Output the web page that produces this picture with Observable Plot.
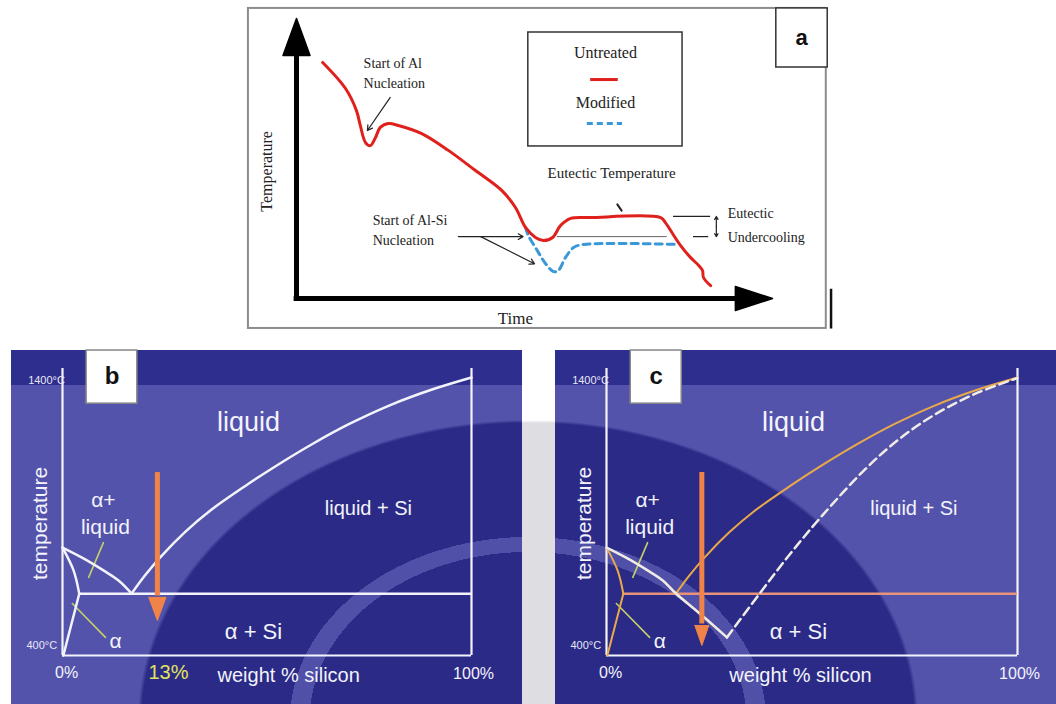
<!DOCTYPE html>
<html><head><meta charset="utf-8">
<script src="https://cdn.jsdelivr.net/npm/d3@7"></script>
<script src="https://cdn.jsdelivr.net/npm/@observablehq/plot@0.6"></script>
<style>
html,body{margin:0;padding:0;background:#fff;}
#wrap{position:relative;width:1056px;height:704px;overflow:hidden;
  background: radial-gradient(ellipse 390px 300px at 538px 720px, #dedee2 0 99%, rgba(255,255,255,0) 100%), #fff;}
.panel{position:absolute;}
#pa{left:247px;top:7px;}
#pb{left:11px;top:350px;width:511px;height:354px;
  background: linear-gradient(#2e2e8e,#2e2e8e) 0 0 / 100% 35px no-repeat,
    radial-gradient(ellipse 390px 300px at 517px 370px, #2b2b87 0 56%, #5050a8 56% 61%, #2b2b87 61% 99%, rgba(0,0,0,0) 100%),
    #5353ab;}
#pc{left:555px;top:350px;width:501px;height:354px;
  background: linear-gradient(#2e2e8e,#2e2e8e) 0 0 / 100% 35px no-repeat,
    radial-gradient(ellipse 390px 300px at -27px 370px, #2b2b87 0 56%, #5050a8 56% 61%, #2b2b87 61% 99%, rgba(0,0,0,0) 100%),
    #5353ab;}
</style></head>
<body><div id="wrap"><div id="pa" class="panel"></div><div id="pb" class="panel"></div><div id="pc" class="panel"></div></div>
<script>
// ---------- Panel a : cooling curves (time, temperature in arbitrary units 0-100) ----------
const timeUntreated = [5.5,10.3,12.6,13.4,14.5,15.5,16.6,17.6,19.3,21.4,26.3,31.9,37.6,43.1,46.0,48.1,50.2,51.9,53.8,55.5,57.6,61.8,76.5,77.5,79.0,80.7,82.8,84.5,85.3,85.5,87.0];
const tempUntreated = [84.3,75.0,67.1,61.8,55.7,54.6,57.5,61.1,62.5,61.8,58.9,52.9,45.7,38.6,32.5,25.4,21.8,20.7,21.8,26.1,28.6,28.9,28.9,27.1,23.2,18.9,14.6,11.8,10.0,7.5,4.6];
const timeModified = [48.1,48.7,50.6,52.3,54.0,55.0,56.5,58.2,60.3,80.0];
const tempModified = [25.4,22.5,17.1,12.5,9.6,10.0,14.6,18.2,19.3,19.3];
const eutecticRef = 22.1;       // thin reference line (undercooled plateau)
const eutecticTop = 29.3;       // untreated plateau level
const legendItems = ["Untreated","Modified"];

// ---------- Panels b, c : Al-Si phase diagram (wt% Si, °C) ----------
const liqLeftSi   = [0,5,10,13.7,16.9];
const liqLeftT    = [788,750,706,670,623];
const liqLeftExtSi = [0,5,10,13.7,16.9,22.7,29.3];
const liqLeftExtT  = [788,750,706,670,623,551,465];
const liqRightSi  = [16.9,20,24,30,36,44.7,52,61,70,80,90,100];
const liqRightT   = [623,685,755,845,920,1010,1080,1160,1232,1300,1355,1400];
const modRightSi  = [29.3,39.1,45.2,52.3,62.6,70.9,79.7,89.5,100];
const modRightT   = [465,659,775,900,1065,1175,1265,1340,1398];
const solidusSi   = [0,2.7,4.1];
const solidusT    = [788,706,622];
const solvusSi    = [4.1,0.2];
const solvusT     = [622,400];
const eutecticT   = 622;
const eutecticStartSi = 4.1;
const tempMin = 400, tempMax = 1400, axisTop = 1432;
const arrowSi = 23.2;

const zip = (a,b) => a.map((v,i)=>({x:v,y:b[i]}));

// ===== Panel a =====
const serif = "Liberation Serif, Times New Roman, serif";
const sans = "Liberation Sans, Arial, Helvetica, sans-serif";
const aTexts = [
  {t:"Start of Al", x:14.1, y:83.9},
  {t:"Nucleation", x:14.1, y:76.8},
  {t:"Start of Al-Si", x:16.0, y:27.9},
  {t:"Nucleation", x:16.0, y:20.7},
  {t:"Eutectic", x:90.6, y:30.4},
  {t:"Undercooling", x:90.6, y:21.8}
];
const aCenterTexts = [
  {t:"Eutectic Temperature", x:66.2, y:44.6, s:15},
  {t:legendItems[0], x:64.9, y:87.9, s:16},
  {t:legendItems[1], x:64.9, y:70.0, s:16},
  {t:"Time", x:46.0, y:-7.3, s:17}
];
const aArrows = [
  {x1:19.7,y1:71.8,x2:14.9,y2:60.0},
  {x1:34.0,y1:eutecticRef,x2:47.6,y2:eutecticRef},
  {x1:38.7,y1:eutecticRef,x2:50.0,y2:12.4},
  {x1:88.2,y1:25.7,x2:88.2,y2:eutecticTop},
  {x1:88.2,y1:25.7,x2:88.2,y2:eutecticRef}
];
const plotA = Plot.plot({
  width: 586, height: 322, margin: 0,
  x: {domain:[0,100], range:[49,525], axis:null},
  y: {domain:[0,100], range:[291,11], axis:null},
  style: {background:"none", overflow:"visible"},
  marks: [
    Plot.rect([0], {x1:-10.1, x2:111.3, y1:-10.7, y2:103.6, fill:"white", stroke:"#8c8c8c", strokeWidth:2}),
    Plot.ruleX([112.3], {y1:-10.9, y2:3.3, stroke:"#111", strokeWidth:2.5}),
    Plot.rect([0], {x1:100.8, x2:111.6, y1:82.5, y2:103.6, fill:"white", stroke:"#333", strokeWidth:1.5}),
    Plot.text(["a"], {x:106.1, y:93.0, fontSize:22, fontWeight:"bold", fontFamily:sans, fill:"#111"}),
    // legend box
    Plot.rect([0], {x1:48.7, x2:81.1, y1:54.3, y2:95.0, fill:"none", stroke:"#333", strokeWidth:1.5}),
    Plot.ruleY([78.2], {x1:61.8, x2:67.6, stroke:"#e0201c", strokeWidth:3}),
    Plot.ruleY([62.5], {x1:61.1, x2:68.5, stroke:"#3a98d8", strokeWidth:3, strokeDasharray:"6,4"}),
    // axes with filled heads
    Plot.ruleX([0], {y1:0, y2:88, stroke:"black", strokeWidth:5}),
    Plot.ruleY([0], {x1:-0.5, x2:93, stroke:"black", strokeWidth:5}),
    Plot.line([[-2.84,86.8],[2.84,86.8],[0,100],[-2.84,86.8]], {x:d=>d[0], y:d=>d[1], fill:"black", stroke:"black"}),
    Plot.line([[92.2,-4.3],[92.2,4.3],[100,0],[92.2,-4.3]], {x:d=>d[0], y:d=>d[1], fill:"black", stroke:"black"}),
    // reference lines
    Plot.ruleY([eutecticRef], {x1:54.8, x2:77.9, stroke:"#666", strokeWidth:1}),
    Plot.ruleY([eutecticTop], {x1:79.2, x2:87.0, stroke:"#222", strokeWidth:1.2}),
    Plot.ruleY([eutecticRef], {x1:83.4, x2:86.6, stroke:"#222", strokeWidth:1.2}),
    Plot.line([[67.4,33.6],[68.3,31.4]], {x:d=>d[0], y:d=>d[1], stroke:"#222", strokeWidth:2}),
    // curves
    Plot.line(zip(timeModified,tempModified), {x:"x", y:"y", stroke:"#3a98d8", strokeWidth:3, strokeDasharray:"7,5", curve:"catmull-rom"}),
    Plot.line(zip(timeUntreated,tempUntreated), {x:"x", y:"y", stroke:"#e0201c", strokeWidth:3, curve:"catmull-rom"}),
    Plot.arrow(aArrows, {x1:"x1", y1:"y1", x2:"x2", y2:"y2", stroke:"#222", strokeWidth:1.2, headLength:7}),
    Plot.text(aTexts, {x:"x", y:"y", text:"t", textAnchor:"start", fontSize:14, fontFamily:serif, fill:"#222"}),
    Plot.text(aCenterTexts, {x:"x", y:"y", text:"t", fontSize:d=>d.s, fontFamily:serif, fill:"#222"}),
    Plot.text(["Temperature"], {x:-6.3, y:45.4, rotate:-90, fontSize:16, fontFamily:serif, fill:"#222"})
  ]
});
document.getElementById("pa").append(plotA);

// ===== Panels b & c =====
const white = "#f3f3fb", orange = "#f08448", gold = "#e9a94a", salmon = "#e8927a", pointer = "#c4d06a";
function commonTexts(weightX) {
  return [
    Plot.text(["1400°C"], {x:0.6, y:1389, textAnchor:"end", fontSize:11, fontFamily:sans, fill:"#e8e8f4"}),
    Plot.text(["400°C"], {x:-1.3, y:436, textAnchor:"end", fontSize:11, fontFamily:sans, fill:"#e8e8f4"}),
    Plot.text(["0%"], {x:1.0, y:339, fontSize:16, fontFamily:sans, fill:white}),
    Plot.text(["100%"], {x:100.5, y:335, fontSize:16, fontFamily:sans, fill:white}),
    Plot.text(["weight % silicon"], {x:weightX, y:328, fontSize:20, fontFamily:sans, fill:white}),
    Plot.text(["temperature"], {x:-5.4, y:875, rotate:-90, fontSize:21, fontFamily:sans, fill:white}),
    Plot.text(["liquid"], {x:45.5, y:1238, fontSize:27, fontFamily:sans, fill:white}),
    Plot.text(["α+"], {x:10.0, y:958, fontSize:21, fontFamily:sans, fill:white}),
    Plot.text(["liquid"], {x:10.5, y:862, fontSize:21, fontFamily:sans, fill:white}),
    Plot.text(["liquid + Si"], {x:74.8, y:929, fontSize:20, fontFamily:sans, fill:white}),
    Plot.text(["α + Si"], {x:46.7, y:483, fontSize:22, fontFamily:sans, fill:white}),
    Plot.text(["α"], {x:13.0, y:452, fontSize:21, fontFamily:sans, fill:white})
  ];
}
function frameMarks(label) {
  return [
    Plot.rect([0], {x1:5.9, x2:18.3, y1:1306, y2:1497, fill:"white", stroke:"#888", strokeWidth:1.5}),
    Plot.text([label], {x:12.1, y:1403, fontSize:24, fontWeight:"bold", fontFamily:sans, fill:"#111"}),
    Plot.ruleX([0], {y1:tempMin, y2:axisTop, stroke:white, strokeWidth:2.2}),
    Plot.ruleX([100], {y1:tempMin, y2:axisTop, stroke:white, strokeWidth:2.2}),
    Plot.ruleY([tempMin], {x1:0, x2:100, stroke:white, strokeWidth:2.2}),
    Plot.line([[10.0,806],[6.4,681]], {x:d=>d[0], y:d=>d[1], stroke:pointer, strokeWidth:1.6}),
    Plot.line([[2.4,587],[10.5,465]], {x:d=>d[0], y:d=>d[1], stroke:pointer, strokeWidth:1.6})
  ];
}
function orangeArrow(yTop, yBase, yTip, halfW) {
  return [
    Plot.ruleX([arrowSi], {y1:yTop, y2:yBase+5, stroke:orange, strokeWidth:5}),
    Plot.line([[arrowSi-halfW,yBase],[arrowSi+halfW,yBase],[arrowSi,yTip],[arrowSi-halfW,yBase]], {x:d=>d[0], y:d=>d[1], fill:orange, stroke:orange, strokeWidth:1})
  ];
}
const baseScales = {
  height: 354, margin: 0,
  y: {domain:[tempMin,tempMax], range:[305,27], axis:null},
  style: {background:"none", overflow:"visible"}
};

const plotB = Plot.plot({
  ...baseScales, width: 511,
  x: {domain:[0,100], range:[51,460], axis:null},
  marks: [
    ...frameMarks("b"),
    Plot.ruleY([eutecticT], {x1:eutecticStartSi, x2:100, stroke:white, strokeWidth:2.5}),
    Plot.line(zip(solidusSi,solidusT), {x:"x", y:"y", stroke:white, strokeWidth:2.5, curve:"catmull-rom"}),
    Plot.line(zip(solvusSi,solvusT), {x:"x", y:"y", stroke:white, strokeWidth:2.5}),
    Plot.line(zip(liqLeftSi,liqLeftT), {x:"x", y:"y", stroke:white, strokeWidth:2.5, curve:"catmull-rom"}),
    Plot.line(zip(liqRightSi,liqRightT), {x:"x", y:"y", stroke:white, strokeWidth:2.5, curve:"catmull-rom"}),
    ...orangeArrow(1058, 609, 526, 2.1),
    ...commonTexts(55.3),
    Plot.text(["13%"], {x:25.9, y:339, fontSize:20, fontFamily:sans, fill:"#e2e45c"})
  ]
});
document.getElementById("pb").append(plotB);

const plotC = Plot.plot({
  ...baseScales, width: 501,
  x: {domain:[0,100], range:[51,462], axis:null},
  marks: [
    ...frameMarks("c"),
    Plot.ruleY([eutecticT], {x1:eutecticStartSi, x2:100, stroke:salmon, strokeWidth:2.5}),
    Plot.line(zip(solidusSi,solidusT), {x:"x", y:"y", stroke:gold, strokeWidth:2, curve:"catmull-rom"}),
    Plot.line(zip(solvusSi,solvusT), {x:"x", y:"y", stroke:gold, strokeWidth:2}),
    Plot.line(zip(liqRightSi,liqRightT), {x:"x", y:"y", stroke:gold, strokeWidth:2, curve:"catmull-rom"}),
    Plot.line(zip(liqLeftExtSi,liqLeftExtT), {x:"x", y:"y", stroke:"#f0ece4", strokeWidth:2.5, curve:"catmull-rom"}),
    Plot.line(zip(modRightSi,modRightT), {x:"x", y:"y", stroke:"#f0ece4", strokeWidth:2.5, strokeDasharray:"9,5", curve:"catmull-rom"}),
    ...orangeArrow(1058, 508, 436, 1.7),
    ...commonTexts(47.2)
  ]
});
document.getElementById("pc").append(plotC);
</script></body></html>
